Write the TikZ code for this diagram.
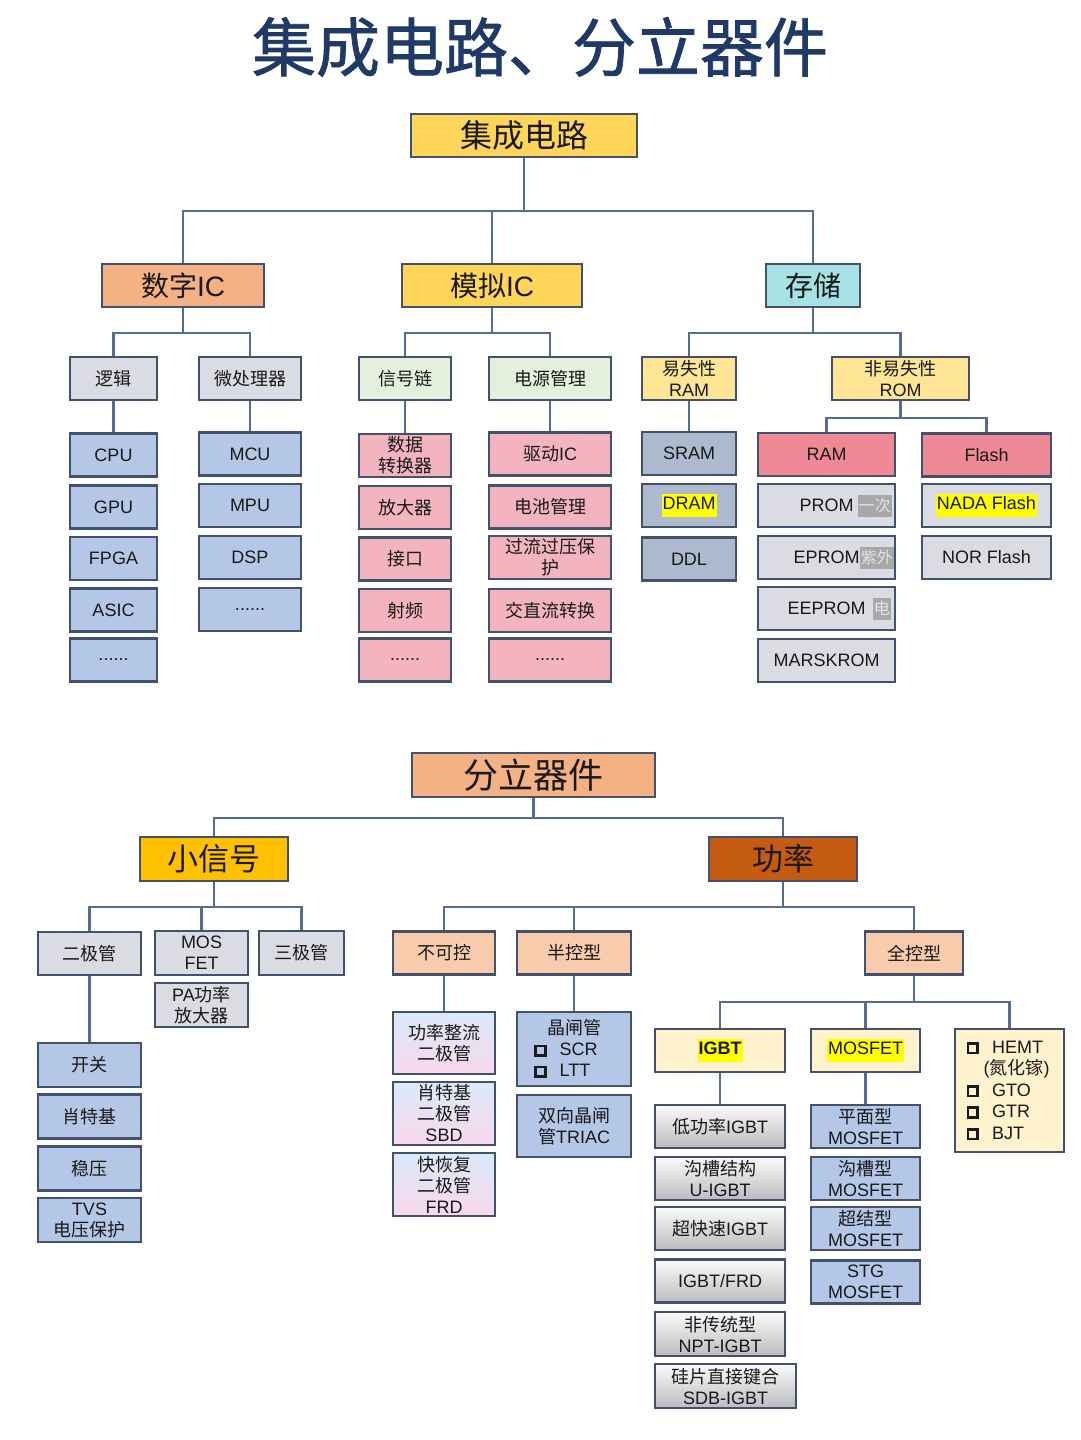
\documentclass[tikz,border=0pt]{standalone}
\usepackage{fontspec}
\setmainfont{Liberation Sans}
\newfontfamily\cjk{Noto Sans CJK SC}
\newfontfamily\cjkt{Noto Sans CJK SC}[FakeBold=1.2]

\XeTeXinterchartokenstate=1
\newXeTeXintercharclass\hancls
\newcommand\sethan[2]{\count255=#1 \loop\XeTeXcharclass\count255=\hancls \ifnum\count255<#2 \advance\count255 by 1 \repeat}
\sethan{"3000}{"303F}
\sethan{"4E00}{"9FFF}
\sethan{"FF00}{"FFEF}
\XeTeXinterchartoks 0 \hancls = {\begingroup\cjk}
\XeTeXinterchartoks 4095 \hancls = {\begingroup\cjk}
\XeTeXinterchartoks \hancls 0 = {\endgroup}
\XeTeXinterchartoks \hancls 4095 = {\endgroup}

\definecolor{titlec}{RGB}{31,58,102}
\definecolor{txtc}{RGB}{25,25,25}
\definecolor{bordc}{RGB}{66,82,108}
\definecolor{linec}{RGB}{84,108,142}
\definecolor{gold1}{RGB}{255,214,90}
\definecolor{peach1}{RGB}{244,177,131}
\definecolor{cyan1}{RGB}{166,226,228}
\definecolor{gray1}{RGB}{219,220,227}
\definecolor{green1}{RGB}{229,239,222}
\definecolor{ylw2}{RGB}{255,230,150}
\definecolor{blue1}{RGB}{180,199,231}
\definecolor{pink1}{RGB}{243,180,192}
\definecolor{slate1}{RGB}{173,185,204}
\definecolor{rose1}{RGB}{239,137,150}
\definecolor{orng1}{RGB}{255,192,0}
\definecolor{rust1}{RGB}{197,90,17}
\definecolor{apri1}{RGB}{248,203,173}
\definecolor{cream1}{RGB}{255,242,204}
\definecolor{hlyel}{RGB}{255,255,0}
\definecolor{tagbg}{RGB}{168,168,168}
\definecolor{tagfg}{RGB}{228,228,228}

\newcommand\hilite[1]{{\setlength\fboxsep{1pt}\colorbox{hlyel}{\strut #1}}}
\newcommand\tickbox{\raisebox{1.5pt}{\setlength\fboxrule{2.8pt}\setlength\fboxsep{0pt}\fbox{\rule{7pt}{0pt}\rule{0pt}{7pt}}}}

\tikzset{
  box/.style={draw=bordc, line width=2.2pt, inner sep=0pt, align=center, text=txtc,
    font=\fontsize{18}{21}\selectfont},
  big/.style={box, font=\fontsize{28}{32}\selectfont},
  wh/.style 2 args={minimum width=#1, minimum height=#2},
  link/.style={draw=linec, line width=2.2pt},
  tag/.style={fill=tagbg, text=tagfg, inner sep=1pt, minimum height=22,
    font=\fontsize{16}{18}\selectfont},
  diodegrad/.style={top color={rgb,255:red,218;green,234;blue,250},
    middle color={rgb,255:red,250;green,242;blue,228},
    bottom color={rgb,255:red,248;green,216;blue,236}},
  igbtgrad/.style={top color={rgb,255:red,250;green,250;blue,250},
    middle color={rgb,255:red,228;green,228;blue,230},
    bottom color={rgb,255:red,188;green,188;blue,192}},
}

\begin{document}
\begin{tikzpicture}[x=1pt, y=-1pt]
  \fill[white] (0,0) rectangle (1080,1440);
  \useasboundingbox (0,0) rectangle (1080,1440);

  \node[text=titlec, font={\XeTeXinterchartokenstate=0 \cjkt\fontsize{64}{70}\selectfont}]
    (title) at (540,47) {集成电路、分立器件};

  \node[box, fill=gold1, wh={226}{43}, font=\fontsize{32}{36}\selectfont] (ic) at (524,135.5) {集成电路};
  \node[big, fill=peach1, wh={162}{43}] (dig) at (183,285.5) {数字IC};
  \node[big, fill=gold1, wh={180}{43}] (ana) at (492,285.5) {模拟IC};
  \node[big, fill=cyan1, wh={94}{43}] (mem) at (813,285.5) {存储};

  \node[box, fill=gray1, wh={87}{43}] (logic) at (113.5,378.5) {逻辑};
  \node[box, fill=gray1, wh={102}{43}] (proc) at (250,378.5) {微处理器};
  \node[box, fill=green1, wh={92}{43}] (sig) at (405,378.5) {信号链};
  \node[box, fill=green1, wh={122}{43}] (pwr) at (550,378.5) {电源管理};
  \node[box, fill=ylw2, wh={94}{43}] (vol) at (689,378.5) {易失性\\RAM};
  \node[box, fill=ylw2, wh={137}{43}] (nvol) at (900.5,378.5) {非易失性\\ROM};

  \node[box, fill=blue1, wh={87}{43}] (cpu) at (113.5,455) {CPU};
  \node[box, fill=blue1, wh={87}{43}] (gpu) at (113.5,507) {GPU};
  \node[box, fill=blue1, wh={87}{43}] (fpga) at (113.5,558.5) {FPGA};
  \node[box, fill=blue1, wh={87}{43}] (asic) at (113.5,610) {ASIC};
  \node[box, fill=blue1, wh={87}{43}] (dotsa) at (113.5,660) {......};

  \node[box, fill=blue1, wh={102}{43}] (mcu) at (250,454) {MCU};
  \node[box, fill=blue1, wh={102}{43}] (mpu) at (250,505.5) {MPU};
  \node[box, fill=blue1, wh={102}{43}] (dsp) at (250,557.5) {DSP};
  \node[box, fill=blue1, wh={102}{43}] (dotsb) at (250,609.5) {......};

  \node[box, fill=pink1, wh={92}{43}] (adc) at (405,455.5) {数据\\转换器};
  \node[box, fill=pink1, wh={92}{43}] (amp) at (405,507.5) {放大器};
  \node[box, fill=pink1, wh={92}{43}] (intf) at (405,559) {接口};
  \node[box, fill=pink1, wh={92}{43}] (rf) at (405,610.5) {射频};
  \node[box, fill=pink1, wh={92}{43}] (dotsc) at (405,660) {......};

  \node[box, fill=pink1, wh={122}{43}] (drv) at (550,454) {驱动IC};
  \node[box, fill=pink1, wh={122}{43}] (batt) at (550,507) {电池管理};
  \node[box, fill=pink1, wh={122}{43}] (prot) at (550,557.5) {过流过压保\\护};
  \node[box, fill=pink1, wh={122}{43}] (acdc) at (550,610.5) {交直流转换};
  \node[box, fill=pink1, wh={122}{43}] (dotsd) at (550,660) {......};

  \node[box, fill=slate1, wh={94}{43}] (sram) at (689,453.5) {SRAM};
  \node[box, fill=slate1, wh={94}{43}] (dram) at (689,505.5) {\hilite{DRAM}};
  \node[box, fill=slate1, wh={94}{43}] (ddl) at (689,559) {DDL};

  \node[box, fill=rose1, wh={137}{43}] (ram) at (826.5,454.5) {RAM};
  \node[box, fill=gray1, wh={137}{43}] (prom) at (826.5,505.5) {PROM};
  \node[box, fill=gray1, wh={137}{43}] (eprom) at (826.5,557.5) {EPROM};
  \node[box, fill=gray1, wh={137}{43}] (eeprom) at (826.5,608.5) {EEPROM};
  \node[box, fill=gray1, wh={137}{43}] (mask) at (826.5,660.5) {MARSKROM};
  \node[tag, anchor=east] (once) at ([xshift=-4pt]prom.east) {一次};
  \node[tag, anchor=east] (uv) at ([xshift=-2pt]eprom.east) {紫外};
  \node[tag, anchor=east] (elec) at ([xshift=-5pt]eeprom.east) {电};

  \node[box, fill=rose1, wh={129}{43}] (flash) at (986.5,455) {Flash};
  \node[box, fill=gray1, wh={129}{43}] (nand) at (986.5,505.5) {\hilite{NADA Flash}};
  \node[box, fill=gray1, wh={129}{43}] (nor) at (986.5,557.5) {NOR Flash};

  \draw[link] (ic.south) -- ++(0,53) -| (dig.north);
  \draw[link] (ic.south) -- ++(0,53) -| (ana.north);
  \draw[link] (ic.south) -- ++(0,53) -| (mem.north);
  \draw[link] (dig.south) -- ++(0,25) -| (logic.north);
  \draw[link] (dig.south) -- ++(0,25) -| (proc.north);
  \draw[link] (ana.south) -- ++(0,25) -| (sig.north);
  \draw[link] (ana.south) -- ++(0,25) -| (pwr.north);
  \draw[link] (mem.south) -- ++(0,25) -| (vol.north);
  \draw[link] (mem.south) -- ++(0,25) -| (nvol.north);
  \draw[link] (nvol.south) -- ++(0,17) -| (ram.north);
  \draw[link] (nvol.south) -- ++(0,17) -| (flash.north);
  \draw[link] (logic) -- (cpu);
  \draw[link] (proc) -- (mcu);
  \draw[link] (sig) -- (adc);
  \draw[link] (pwr) -- (drv);
  \draw[link] (vol) -- (sram);

  \node[box, fill=peach1, wh={243}{44}, font=\fontsize{35}{40}\selectfont] (dis) at (533.5,775) {分立器件};
  \node[box, fill=orng1, wh={148}{44}, font=\fontsize{31}{36}\selectfont] (small) at (214,859) {小信号};
  \node[box, fill=rust1, wh={148}{44}, font=\fontsize{31}{36}\selectfont] (power) at (783,859) {功率};

  \node[box, fill=gray1, wh={103}{43}] (diode) at (89.5,953.5) {二极管};
  \node[box, fill=gray1, wh={93}{44}] (mosfet) at (201.5,953) {MOS\\FET};
  \node[box, fill=gray1, wh={85}{44}] (bjt) at (301.5,953) {三极管};
  \node[box, fill=gray1, wh={93}{44}] (pa) at (201.5,1005) {PA功率\\放大器};

  \node[box, fill=blue1, wh={103}{44}] (sw) at (89.5,1065) {开关};
  \node[box, fill=blue1, wh={103}{44}] (sch) at (89.5,1116.5) {肖特基};
  \node[box, fill=blue1, wh={103}{44}] (zen) at (89.5,1168.5) {稳压};
  \node[box, fill=blue1, wh={103}{44}] (tvs) at (89.5,1220) {TVS\\电压保护};

  \node[box, fill=apri1, wh={102}{43}] (unc) at (444,953) {不可控};
  \node[box, fill=apri1, wh={114}{43}] (semi) at (574,953) {半控型};
  \node[box, fill=apri1, wh={98}{43}] (full) at (914,953) {全控型};

  \node[box, diodegrad, wh={102}{62}] (rect) at (444,1043) {功率整流\\二极管};
  \node[box, diodegrad, wh={102}{63}] (sbd) at (444,1113.5) {肖特基\\二极管\\SBD};
  \node[box, diodegrad, wh={102}{63}] (frd) at (444,1184.5) {快恢复\\二极管\\FRD};

  \node[box, fill=blue1, wh={114}{74}, text width=80, inner xsep=17, align=left] (thy) at (574,1049)
    {\hspace*{13pt}晶闸管\\\tickbox\hspace{13pt}SCR\\\tickbox\hspace{13pt}LTT};
  \node[box, fill=blue1, wh={114}{62}] (triac) at (574,1126) {双向晶闸\\管TRIAC};

  \node[box, fill=cream1, wh={130}{43}] (igbt) at (720,1050.5) {\hilite{\bfseries IGBT}};
  \node[box, fill=cream1, wh={109}{43}] (mos) at (865.5,1050.5) {\hilite{MOSFET}};
  \node[box, fill=cream1, wh={109}{123}, text width=86, inner xsep=11.5, align=left,
    font=\fontsize{18}{21.5}\selectfont] (others) at (1009.5,1090.5)
    {\tickbox\hspace{13pt}HEMT\\\hspace*{17pt}(氮化镓)\\\tickbox\hspace{13pt}GTO\\\tickbox\hspace{13pt}GTR\\\tickbox\hspace{13pt}BJT};

  \node[box, igbtgrad, wh={130}{43}] (lowp) at (720,1126.5) {低功率IGBT};
  \node[box, igbtgrad, wh={130}{43}] (trench) at (720,1178.5) {沟槽结构\\U-IGBT};
  \node[box, igbtgrad, wh={130}{43}] (fast) at (720,1228.5) {超快速IGBT};
  \node[box, igbtgrad, wh={130}{43}] (ifrd) at (720,1281) {IGBT/FRD};
  \node[box, igbtgrad, wh={130}{44}] (npt) at (720,1334) {非传统型\\NPT-IGBT};
  \node[box, igbtgrad, wh={141}{44}] (sdb) at (725.5,1386) {硅片直接键合\\SDB-IGBT};

  \node[box, fill=blue1, wh={109}{43}] (planar) at (865.5,1126.5) {平面型\\MOSFET};
  \node[box, fill=blue1, wh={109}{43}] (tmos) at (865.5,1178.5) {沟槽型\\MOSFET};
  \node[box, fill=blue1, wh={109}{43}] (sj) at (865.5,1228.5) {超结型\\MOSFET};
  \node[box, fill=blue1, wh={109}{43}] (stg) at (865.5,1282) {STG\\MOSFET};

  \draw[link] (dis.south) -- ++(0,20) -| (small.north);
  \draw[link] (dis.south) -- ++(0,20) -| (power.north);
  \draw[link] (small.south) -- ++(0,25) -| (diode.north);
  \draw[link] (small.south) -- ++(0,25) -| (mosfet.north);
  \draw[link] (small.south) -- ++(0,25) -| (bjt.north);
  \draw[link] (power.south) -- ++(0,25) -| (unc.north);
  \draw[link] (power.south) -- ++(0,25) -| (semi.north);
  \draw[link] (power.south) -- ++(0,25) -| (full.north);
  \draw[link] (full.south) -- ++(0,26) -| (igbt.north);
  \draw[link] (full.south) -- ++(0,26) -| (mos.north);
  \draw[link] (full.south) -- ++(0,26) -| (others.north);
  \draw[link] (diode) -- (sw);
  \draw[link] (unc) -- (rect);
  \draw[link] (semi) -- (thy);
  \draw[link] (igbt) -- (lowp);
  \draw[link] (mos) -- (planar);
\end{tikzpicture}
\end{document}
